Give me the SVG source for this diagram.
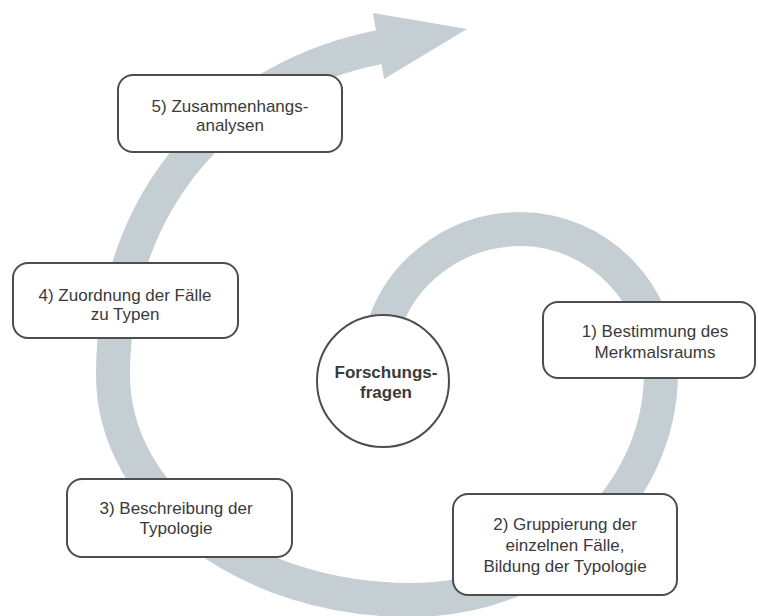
<svg xmlns="http://www.w3.org/2000/svg" width="758" height="616" viewBox="0 0 758 616">
  <style>
    .band { fill: none; stroke: #c5cfd3; stroke-width: 34; stroke-linecap: butt; stroke-linejoin: round; }
    .head { fill: #c5cfd3; }
    .box { fill: #ffffff; stroke: #4d4d4d; stroke-width: 2; }
    .lbl { font-family: "Liberation Sans", Arial, sans-serif; font-size: 17px; fill: #3a3a3a; text-anchor: middle; }
    .core { font-weight: bold; }
  </style>

  <!-- spiral band leading from the centre outwards, ending in an arrowhead -->
  <g id="connectors">
    <path class="band" d="M 376 346 L 387 318 C 408 265 462 229 520 229 C 598 229 661 294 661 372 C 661 498 549 600 410 600 C 246 600 113 499 113 375 C 113 195 231 76 380 47"/>
    <polygon class="head" points="373,13 467,29 384,79"/>
  </g>

  <g id="core">
    <circle class="box" cx="383" cy="381" r="66"/>
    <text class="lbl core" x="386" y="378">Forschungs-</text>
    <text class="lbl core" x="386" y="398">fragen</text>
  </g>

  <g id="step1">
    <rect class="box" x="543" y="302" width="212" height="76" rx="15"/>
    <text class="lbl" x="655" y="337">1) Bestimmung des</text>
    <text class="lbl" x="655" y="358">Merkmalsraums</text>
  </g>

  <g id="step2">
    <rect class="box" x="453" y="494" width="224" height="101" rx="15"/>
    <text class="lbl" x="565" y="530">2) Gruppierung der</text>
    <text class="lbl" x="565" y="551">einzelnen Fälle,</text>
    <text class="lbl" x="565" y="572">Bildung der Typologie</text>
  </g>

  <g id="step3">
    <rect class="box" x="67" y="479" width="225" height="78" rx="15"/>
    <text class="lbl" x="176" y="514">3) Beschreibung der</text>
    <text class="lbl" x="176" y="534">Typologie</text>
  </g>

  <g id="step4">
    <rect class="box" x="13" y="263" width="225" height="75" rx="15"/>
    <text class="lbl" x="125" y="301">4) Zuordnung der Fälle</text>
    <text class="lbl" x="125" y="320">zu Typen</text>
  </g>

  <g id="step5">
    <rect class="box" x="118" y="75" width="224" height="77" rx="15"/>
    <text class="lbl" x="230" y="112">5) Zusammenhangs-</text>
    <text class="lbl" x="230" y="131">analysen</text>
  </g>
</svg>
